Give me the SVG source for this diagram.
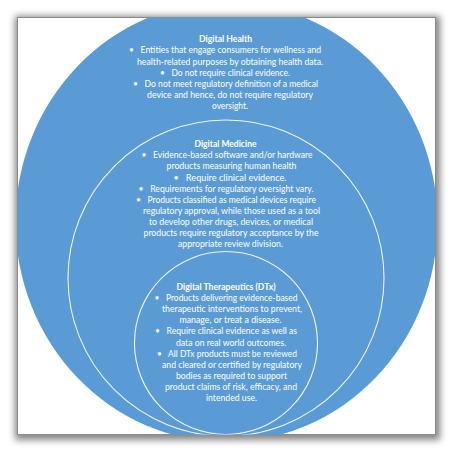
<svg xmlns="http://www.w3.org/2000/svg" width="455" height="453" viewBox="0 0 455 453">
  <style>
    .t { font-family: Lato, "Liberation Sans", sans-serif; font-size: 9px; fill: #ffffff; text-anchor: middle; }
    .h { font-weight: bold; }
    .ring { fill: none; stroke: #ffffff; stroke-width: 1.1; stroke-opacity: 0.9; }
  </style>
  <defs>
    <filter id="shadow" x="-10%" y="-10%" width="120%" height="120%">
      <feGaussianBlur stdDeviation="3.5"/>
    </filter>
    <clipPath id="frameClip">
      <rect x="17.5" y="17.5" width="418" height="417"/>
    </clipPath>
  </defs>

  <rect width="455" height="453" fill="#ffffff"/>
  <!-- frame with drop shadow -->
  <rect x="15" y="16" width="425" height="424" fill="#6e6e6e" opacity="0.85" filter="url(#shadow)"/>
  <rect x="17.5" y="17.5" width="418" height="417" fill="#ffffff" stroke="#8c8c8c" stroke-width="1"/>

  <g clip-path="url(#frameClip)">
    <g id="digital-health">
      <ellipse cx="226.5" cy="222" rx="211" ry="220" fill="#5b9bd5"/>
      <text class="t h" x="225.5" y="42" textLength="53" lengthAdjust="spacingAndGlyphs">Digital Health</text>
      <text class="t" x="225" y="53.3" textLength="192" lengthAdjust="spacingAndGlyphs">•&#160;&#160;&#160;Entities that engage consumers for wellness and</text>
      <text class="t" x="230" y="64.5" textLength="186" lengthAdjust="spacingAndGlyphs">health-related purposes by obtaining health data.</text>
      <text class="t" x="225" y="75.7" textLength="130" lengthAdjust="spacingAndGlyphs">•&#160;&#160;&#160;Do not require clinical evidence.</text>
      <text class="t" x="225.5" y="86.9" textLength="185" lengthAdjust="spacingAndGlyphs">•&#160;&#160;&#160;Do not meet regulatory definition of a medical</text>
      <text class="t" x="230" y="98.1" textLength="166" lengthAdjust="spacingAndGlyphs">device and hence, do not require regulatory</text>
      <text class="t" x="230" y="109.3" textLength="36" lengthAdjust="spacingAndGlyphs">oversight.</text>
    </g>

    <g id="digital-medicine">
      <circle class="ring" cx="226" cy="278" r="158"/>
      <text class="t h" x="225.5" y="147" textLength="62" lengthAdjust="spacingAndGlyphs">Digital Medicine</text>
      <text class="t" x="227" y="158.2" textLength="171" lengthAdjust="spacingAndGlyphs">•&#160;&#160;&#160;Evidence-based software and/or hardware</text>
      <text class="t" x="231.5" y="169.3" textLength="130" lengthAdjust="spacingAndGlyphs">products measuring human health</text>
      <text class="t" x="230" y="180.5" textLength="113" lengthAdjust="spacingAndGlyphs">•&#160;&#160;&#160;Require clinical evidence.</text>
      <text class="t" x="226" y="191.6" textLength="175" lengthAdjust="spacingAndGlyphs">•&#160;&#160;&#160;Requirements for regulatory oversight vary.</text>
      <text class="t" x="226" y="202.8" textLength="180" lengthAdjust="spacingAndGlyphs">•&#160;&#160;&#160;Products classified as medical devices require</text>
      <text class="t" x="231.5" y="213.9" textLength="177" lengthAdjust="spacingAndGlyphs">regulatory approval, while those used as a tool</text>
      <text class="t" x="231" y="225.1" textLength="164" lengthAdjust="spacingAndGlyphs">to develop other drugs, devices, or medical</text>
      <text class="t" x="231" y="236.2" textLength="175" lengthAdjust="spacingAndGlyphs">products require regulatory acceptance by the</text>
      <text class="t" x="230.5" y="247.4" textLength="105" lengthAdjust="spacingAndGlyphs">appropriate review division.</text>
    </g>

    <g id="digital-therapeutics">
      <circle class="ring" cx="226" cy="343" r="91.5"/>
      <text class="t h" x="226" y="289.8" textLength="99" lengthAdjust="spacingAndGlyphs">Digital Therapeutics (DTx)</text>
      <text class="t" x="226" y="301" textLength="143" lengthAdjust="spacingAndGlyphs">•&#160;&#160;&#160;Products delivering evidence-based</text>
      <text class="t" x="232" y="312.1" textLength="140" lengthAdjust="spacingAndGlyphs">therapeutic interventions to prevent,</text>
      <text class="t" x="230.5" y="323.3" textLength="102" lengthAdjust="spacingAndGlyphs">manage, or treat a disease.</text>
      <text class="t" x="226" y="334.4" textLength="142" lengthAdjust="spacingAndGlyphs">•&#160;&#160;&#160;Require clinical evidence as well as</text>
      <text class="t" x="231" y="345.6" textLength="110" lengthAdjust="spacingAndGlyphs">data on real world outcomes.</text>
      <text class="t" x="227" y="356.7" textLength="140" lengthAdjust="spacingAndGlyphs">•&#160;&#160;&#160;All DTx products must be reviewed</text>
      <text class="t" x="232" y="367.9" textLength="140" lengthAdjust="spacingAndGlyphs">and cleared or certified by regulatory</text>
      <text class="t" x="231.5" y="379" textLength="111" lengthAdjust="spacingAndGlyphs">bodies as required to support</text>
      <text class="t" x="231" y="390.2" textLength="132" lengthAdjust="spacingAndGlyphs">product claims of risk, efficacy, and</text>
      <text class="t" x="231.5" y="401.3" textLength="51" lengthAdjust="spacingAndGlyphs">intended use.</text>
    </g>
  </g>
</svg>
